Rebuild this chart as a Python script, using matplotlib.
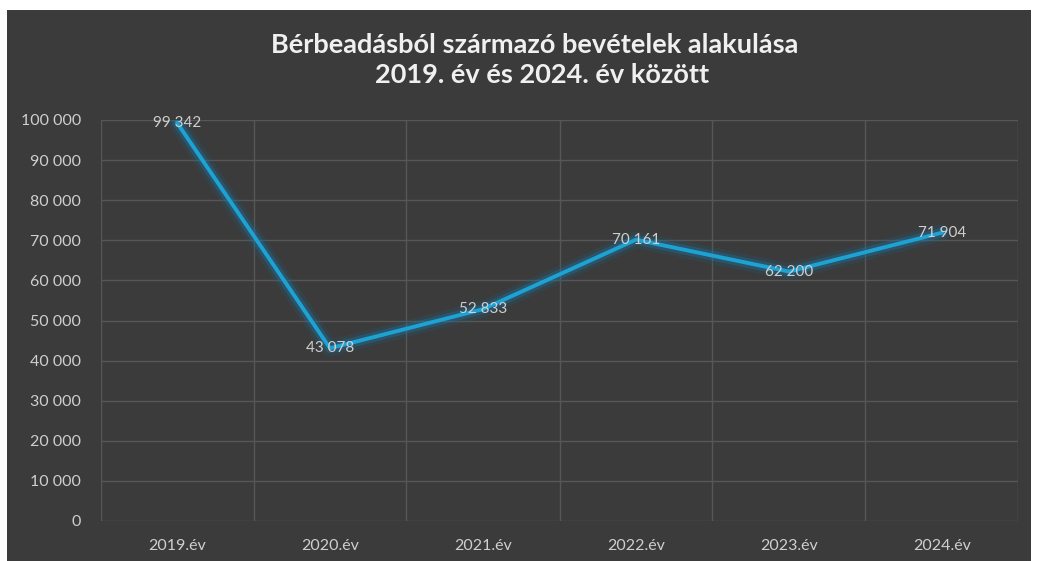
import matplotlib
matplotlib.use('Agg')
import matplotlib.pyplot as plt
from matplotlib.patches import Rectangle
from matplotlib.ticker import FuncFormatter, MultipleLocator

# Data
years = ['2019.év', '2020.év', '2021.év', '2022.év', '2023.év', '2024.év']
revenue = [99342, 43078, 52833, 70161, 62200, 71904]
title_lines = ['Bérbeadásból származó bevételek alakulása',
               '2019. év és 2024. év között']

BG = '#3b3b3b'
GRID = '#575757'
TEXT = '#cfcfcf'
LINE = '#1ca3d3'

plt.rcParams['font.family'] = ['Lato', 'DejaVu Sans']


def fmt(v):
    return f'{int(v):,}'.replace(',', ' ')


fig = plt.figure(figsize=(10.38, 5.61), dpi=100)
fig.patch.set_facecolor('white')

# dark chart panel (scanned page shows a white strip on top/left)
W, H = 1038, 561
fig.patches.append(Rectangle((7 / W, 0), (1031 - 7) / W, (H - 10) / H,
                             transform=fig.transFigure, facecolor=BG,
                             edgecolor='none', zorder=-10))

ax = fig.add_axes([100.5 / W, (H - 521) / H, 918 / W, 401 / H])
ax.set_facecolor('none')

x = list(range(len(years)))

# glow under the line
ax.plot(x, revenue, color='#1b5f86', linewidth=12, alpha=0.2,
        solid_joinstyle='round', solid_capstyle='round', zorder=2)
ax.plot(x, revenue, color='#1d78a8', linewidth=7, alpha=0.35,
        solid_joinstyle='round', solid_capstyle='round', zorder=3)
ax.plot(x, revenue, color=LINE, linewidth=2.8,
        solid_joinstyle='round', solid_capstyle='round', zorder=4)

for xi, v in zip(x, revenue):
    ax.text(xi, v, fmt(v), ha='center', va='center', fontsize=11,
            color=TEXT, zorder=5)

ax.set_xlim(-0.5, len(years) - 0.5)
ax.set_ylim(0, 100000)
ax.set_xticks(x)
ax.set_xticklabels(years)
ax.yaxis.set_major_locator(MultipleLocator(10000))
ax.yaxis.set_major_formatter(FuncFormatter(lambda v, p: fmt(v)))
ax.set_xticks([i - 0.5 for i in range(len(years) + 1)], minor=True)

ax.grid(True, which='major', axis='y', color=GRID, linewidth=1)
ax.grid(True, which='minor', axis='x', color=GRID, linewidth=1)
ax.set_axisbelow(True)

ax.tick_params(axis='both', which='both', length=0, colors=TEXT, labelsize=11.5)
ax.tick_params(axis='y', pad=14)
ax.tick_params(axis='x', pad=13)
for s in ax.spines.values():
    s.set_visible(False)

fig.text(535 / W, 1 - 45 / H, title_lines[0], ha='center', va='center',
         fontsize=19.5, fontweight='bold', color='#f0f0f0')
fig.text(542 / W, 1 - 75 / H, title_lines[1], ha='center', va='center',
         fontsize=19.5, fontweight='bold', color='#f0f0f0')

fig.savefig('out.png', dpi=100)
